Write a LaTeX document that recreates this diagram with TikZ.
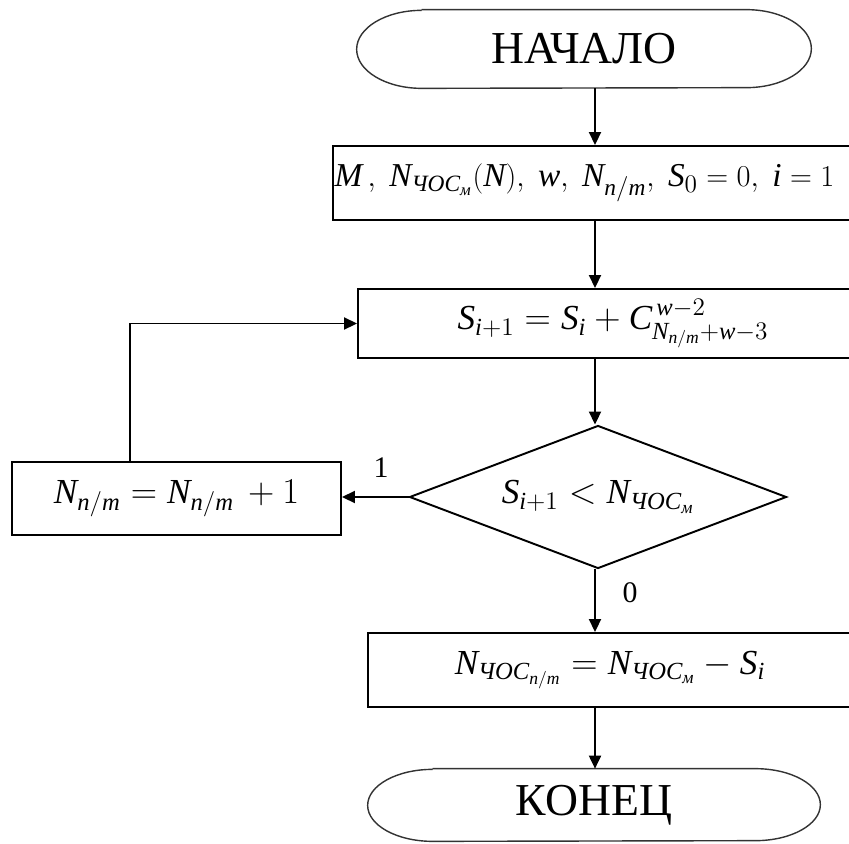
\documentclass[tikz,border=0pt]{standalone}
\usepackage{amsmath}
\usepackage{fontspec}
\setmainfont{Liberation Serif}
\newfontfamily\tmsfamily[NFSSFamily=tms]{Liberation Serif}
\usetikzlibrary{shapes.geometric, arrows.meta}

% Times-like letters and digits in formulas
\DeclareSymbolFont{tletters}{TU}{tms}{m}{it}
\DeclareSymbolFont{tdigits}{TU}{tms}{m}{n}
\DeclareMathSymbol{M}{\mathalpha}{tletters}{`M}
\DeclareMathSymbol{N}{\mathalpha}{tletters}{`N}
\DeclareMathSymbol{S}{\mathalpha}{tletters}{`S}
\DeclareMathSymbol{C}{\mathalpha}{tletters}{`C}
\DeclareMathSymbol{w}{\mathalpha}{tletters}{`w}
\DeclareMathSymbol{i}{\mathalpha}{tletters}{`i}
\DeclareMathSymbol{n}{\mathalpha}{tletters}{`n}
\DeclareMathSymbol{m}{\mathalpha}{tletters}{`m}
\DeclareMathSymbol{0}{\mathalpha}{tdigits}{`0}
\DeclareMathSymbol{1}{\mathalpha}{tdigits}{`1}
\DeclareMathSymbol{2}{\mathalpha}{tdigits}{`2}
\DeclareMathSymbol{3}{\mathalpha}{tdigits}{`3}

\tikzset{
  blockbox/.style={draw, line width=1.1pt, minimum height=1.48cm, inner sep=1pt,
    font=\fontsize{20}{24}\selectfont},
  flow/.style={line width=1.1pt, -{Triangle[length=0.26cm, width=0.24cm]}},
  tagtext/.style={font=\fontsize{17}{20}\selectfont}
}
\newcommand{\chos}{\text{\itshape ЧОС}}

\begin{document}
\begin{tikzpicture}
  \clip (0,0) rectangle (16.98,-16.86);

  % -- Column of the main flow --
  \coordinate (spine) at (11.9,0);
  \coordinate (loopx) at (2.6,0);

  % -- Start --
  \node[minimum width=9.08cm, minimum height=1.56cm, font=\fontsize{26}{30}\selectfont] (start) at (11.68,-0.98) {НАЧАЛО};
  \draw[line width=0.8pt, black!80] ([xshift=1.3cm]start.north west) -- ([xshift=-1.3cm]start.north east)
    arc[start angle=90, end angle=-90, x radius=1.3cm, y radius=0.78cm]
    -- ([xshift=1.3cm]start.south west)
    arc[start angle=270, end angle=90, x radius=1.3cm, y radius=0.78cm];

  % -- Input data --
  \node[blockbox, anchor=west, text width=12.5cm, align=left, font=\fontsize{19}{23}\selectfont] (init) at (6.64,-3.66)
    {$M\,,\;N_{\chos_{\text{\itshape м}}}(N),\;w,\;N_{n/m},\;S_0=0,\;i=1$};

  % -- Sum step --
  \node[blockbox, minimum width=10.2cm, minimum height=1.38cm] (body) at (12.26,-6.47)
    {$S_{i+1}=S_i+C^{\,w-2}_{N_{n/m}+w-3}$};

  % -- Test --
  \node[draw, diamond, aspect=2.64, line width=1.1pt, inner sep=0pt, minimum width=7.54cm, minimum height=2.86cm,
    font=\fontsize{20}{24}\selectfont] (test) at (11.96,-9.94)
    {$S_{i+1}<N_{\chos_{\text{\itshape м}}}$};

  % -- Increment --
  \node[blockbox, minimum width=6.58cm, minimum height=1.46cm] (inc) at (3.53,-9.97)
    {$N_{n/m}=N_{n/m}\,+1$};

  % -- Result --
  \node[blockbox, minimum width=9.68cm] (result) at (12.2,-13.4)
    {$N_{\chos_{n/m}}=N_{\chos_{\text{\itshape м}}}-S_i$};

  % -- End --
  \node[minimum width=9.04cm, minimum height=1.44cm, font=\fontsize{26}{30}\selectfont] (stop) at (11.88,-16.1) {КОНЕЦ};
  \draw[line width=0.8pt, black!80] ([xshift=1.3cm]stop.north west) -- ([xshift=-1.3cm]stop.north east)
    arc[start angle=90, end angle=-90, x radius=1.3cm, y radius=0.72cm]
    -- ([xshift=1.3cm]stop.south west)
    arc[start angle=270, end angle=90, x radius=1.3cm, y radius=0.72cm];

  % -- Connectors --
  \draw[flow] (start.south -| spine) -- (init.north -| spine);
  \draw[flow] (init.south -| spine) -- (body.north -| spine);
  \draw[flow] (body.south -| spine) -- (test.north -| spine);
  \draw[flow] (test.south -| spine) -- (result.north -| spine);
  \draw[flow] (result.south -| spine) -- (stop.north -| spine);
  \draw[flow] (test.west) -- (test.west -| inc.east);
  \draw[flow] (inc.north -| loopx) |- (body.west);

  % -- Branch labels --
  \node[tagtext] (yes) at (7.62,-9.36) {1};
  \node[tagtext] (no) at (12.6,-11.86) {0};

\end{tikzpicture}
\end{document}
